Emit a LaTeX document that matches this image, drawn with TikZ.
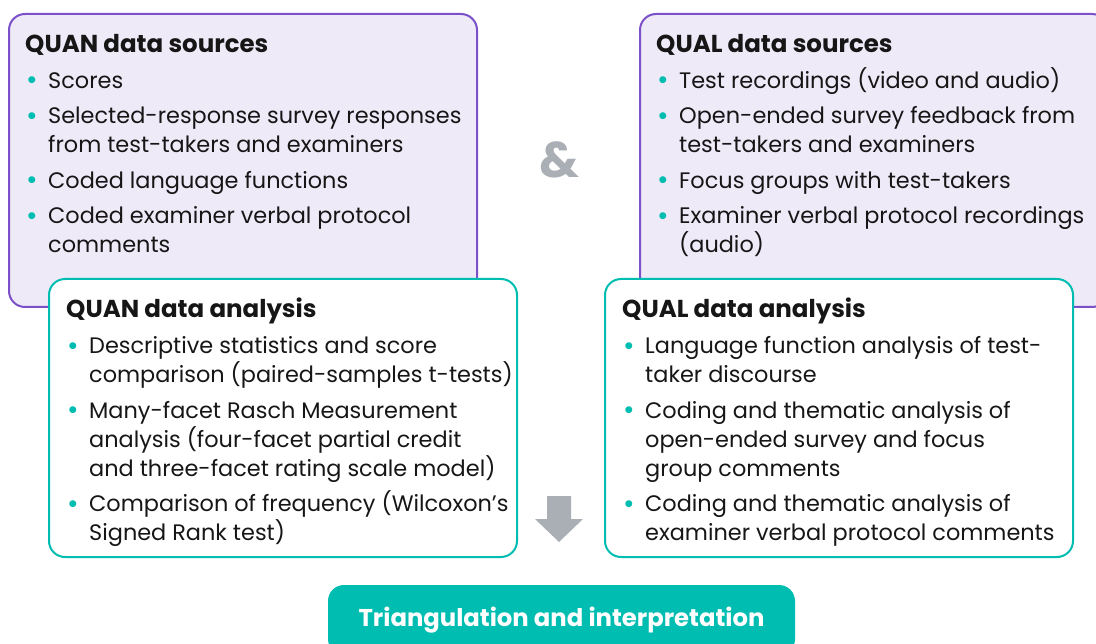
\documentclass[tikz,border=0pt]{standalone}
\usepackage{fontspec}
\setmainfont{Poppins}
\definecolor{srcline}{HTML}{7B50C8}
\definecolor{srcfill}{HTML}{EEEAF8}
\definecolor{tealc}{HTML}{00BDB1}
\definecolor{arrowgray}{HTML}{AAAEB5}
\definecolor{ink}{HTML}{161616}
% bullet marker and indentation for wrapped lines
\newcommand{\bul}{\makebox[23pt][l]{\hspace*{1pt}\raisebox{-1.5pt}{\fontsize{28}{28}\selectfont\textcolor{tealc}{•}}}}
\newcommand{\cont}{\hspace*{23pt}}
\newcommand{\boxtitle}[1]{{\fontsize{24.5}{29}\selectfont\bfseries #1}}
\begin{document}
\begin{tikzpicture}[x=1pt,y=-1pt,
  srcbox/.style={draw=srcline, fill=srcfill, line width=2pt, rounded corners=16pt,
    minimum width=468pt, minimum height=293pt, inner sep=0pt},
  anabox/.style={draw=tealc, fill=white, line width=2pt, rounded corners=16pt,
    minimum width=468pt, minimum height=278pt, inner sep=0pt},
  listtext/.style={anchor=north west, align=left, inner sep=0pt, text=ink,
    font=\fontsize{22.4}{29}\selectfont}]
\useasboundingbox (0,0) rectangle (1096,644);
\clip (0,0) rectangle (1096,644);

% data sources
\node[srcbox] (quansrc) at (243,160.5) {};
\node[srcbox] (qualsrc) at (874,160.5) {};

\node[listtext] (quansrctext) at (25,34) {%
  \boxtitle{QUAN data sources}\\[7pt]
  \bul Scores\\[6.5pt]
  \bul Selected-response survey responses\\
  \cont from test-takers and examiners\\[6.5pt]
  \bul Coded language functions\\[6.5pt]
  \bul Coded examiner verbal protocol\\
  \cont comments};

\node[listtext] (qualsrctext) at (656,34) {%
  \boxtitle{QUAL data sources}\\[7pt]
  \bul Test recordings (video and audio)\\[6.5pt]
  \bul Open-ended survey feedback from\\
  \cont test-takers and examiners\\[6.5pt]
  \bul Focus groups with test-takers\\[6.5pt]
  \bul Examiner verbal protocol recordings\\
  \cont (audio)};

% ampersand between the sources
\node[text=arrowgray, font=\fontsize{50}{50}\selectfont\bfseries] (amp) at (559,160) {\&};

% data analysis
\node[anabox] (quanana) at (283,418) {};
\node[anabox] (qualana) at (839,418) {};

\node[listtext] (quananatext) at (66,298) {%
  \boxtitle{QUAN data analysis}\\[7pt]
  \bul Descriptive statistics and score\\
  \cont comparison (paired-samples t-tests)\\[6.5pt]
  \bul Many-facet Rasch Measurement\\
  \cont analysis (four-facet partial credit\\
  \cont and three-facet rating scale model)\\[6.5pt]
  \bul Comparison of frequency (Wilcoxon’s\\
  \cont Signed Rank test)};

\node[listtext] (qualanatext) at (622,298) {%
  \boxtitle{QUAL data analysis}\\[7pt]
  \bul Language function analysis of test-\\
  \cont taker discourse\\[6.5pt]
  \bul Coding and thematic analysis of\\
  \cont open-ended survey and focus\\
  \cont group comments\\[6.5pt]
  \bul Coding and thematic analysis of\\
  \cont examiner verbal protocol comments};

% downward arrow
\fill[arrowgray] (547,496) -- (571,496) -- (571,519) -- (583,519) -- (559,542)
  -- (535,519) -- (547,519) -- cycle;

% final stage
\node[fill=tealc, rounded corners=16pt, minimum width=467pt, minimum height=70pt,
  inner sep=0pt] (tri) at (561.5,620) {};
\node[text=white, font=\fontsize{24.3}{28}\selectfont\bfseries] (tritext) at (561.5,620)
  {Triangulation and interpretation};
\end{tikzpicture}
\end{document}
